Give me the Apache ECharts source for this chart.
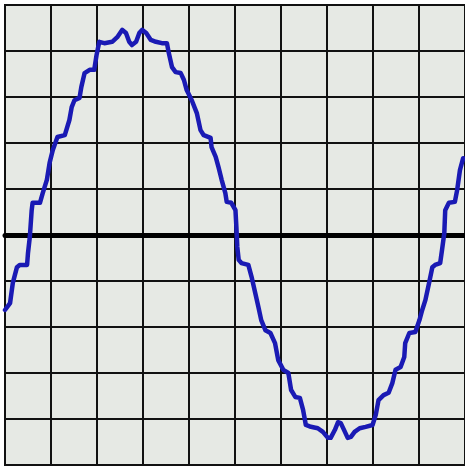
<!DOCTYPE html>
<html>
<head>
<meta charset="utf-8">
<script src="https://cdn.jsdelivr.net/npm/echarts@6/dist/echarts.min.js"></script>
<style>
  html, body {
    margin: 0;
    padding: 0;
    background: #ffffff;
  }
  #chart {
    width: 465px;
    height: 466px;
  }
</style>
</head>
<body>
<div id="chart"></div>
<script>
// time in divisions, amplitude in divisions
var timeDiv = [
  0, 0.11, 0.17, 0.26, 0.32, 0.48, 0.50, 0.54, 0.58, 0.60, 0.76, 0.82, 0.91, 0.97, 1.04, 1.14,
  1.30, 1.40, 1.45, 1.51, 1.62, 1.66, 1.73, 1.84, 1.94, 1.99, 2.05, 2.16, 2.33, 2.44, 2.55, 2.63,
  2.70, 2.76, 2.85, 2.92, 2.98, 3.07, 3.17, 3.28, 3.41, 3.52, 3.56, 3.63, 3.71, 3.82, 3.89, 3.95,
  4.06, 4.17, 4.25, 4.32, 4.47, 4.49, 4.58, 4.64, 4.71, 4.79, 4.82, 4.92, 5.01, 5.03, 5.05, 5.08,
  5.14, 5.29, 5.36, 5.44, 5.51, 5.57, 5.66, 5.77, 5.87, 5.94, 6.05, 6.16, 6.22, 6.31, 6.41, 6.48,
  6.54, 6.65, 6.80, 6.91, 7.02, 7.08, 7.17, 7.24, 7.30, 7.39, 7.45, 7.52, 7.60, 7.71, 7.84, 7.99,
  8.06, 8.12, 8.23, 8.34, 8.42, 8.49, 8.60, 8.68, 8.70, 8.79, 8.92, 9.01, 9.07, 9.14, 9.22, 9.29,
  9.35, 9.46, 9.50, 9.55, 9.57, 9.65, 9.78, 9.83, 9.89, 9.96
]
var voltDiv = [
  -1.63, -1.48, -1.04, -0.70, -0.65, -0.65, -0.39, -0.04, 0.54, 0.70, 0.70, 0.91, 1.20, 1.57, 1.85, 2.13,
  2.17, 2.50, 2.78, 2.93, 2.98, 3.22, 3.52, 3.59, 3.59, 3.91, 4.20, 4.17, 4.20, 4.30, 4.46, 4.39,
  4.20, 4.13, 4.20, 4.39, 4.46, 4.39, 4.24, 4.20, 4.17, 4.17, 3.96, 3.65, 3.54, 3.52, 3.37, 3.15,
  2.93, 2.65, 2.28, 2.17, 2.11, 1.91, 1.70, 1.48, 1.20, 0.91, 0.72, 0.70, 0.54, 0.17, -0.26, -0.54,
  -0.61, -0.65, -0.91, -1.26, -1.57, -1.85, -2.07, -2.13, -2.35, -2.72, -2.93, -3.00, -3.37, -3.52, -3.54, -3.80,
  -4.13, -4.17, -4.20, -4.28, -4.41, -4.41, -4.24, -4.07, -4.09, -4.28, -4.41, -4.39, -4.28, -4.20, -4.17, -4.13,
  -3.91, -3.59, -3.48, -3.43, -3.22, -2.93, -2.87, -2.65, -2.35, -2.13, -2.11, -1.85, -1.63, -1.41, -1.04, -0.70,
  -0.65, -0.61, -0.33, 0.04, 0.54, 0.70, 0.72, 0.98, 1.41, 1.67
]
var xTicks = [0, 10, 1]
var yTicks = [-5, 5, 1]

var trace = timeDiv.map(function(t, i) {
  return [t, voltDiv[i]]
})

var myChart = echarts.init(document.getElementById('chart'))
myChart.setOption({
  animation: false,
  grid: {
    left: 5,
    top: 5,
    width: 463,
    height: 460,
    show: true,
    backgroundColor: '#e6e9e4',
    borderColor: '#111111',
    borderWidth: 2
  },
  xAxis: {
    type: 'value',
    min: xTicks[0],
    max: xTicks[1],
    interval: xTicks[2],
    axisLine: {
      onZero: true,
      lineStyle: {
        color: '#000000',
        width: 5
      }
    },
    axisTick: { show: false },
    axisLabel: { show: false },
    splitLine: {
      lineStyle: {
        color: '#111111',
        width: 2
      }
    }
  },
  yAxis: {
    type: 'value',
    min: yTicks[0],
    max: yTicks[1],
    interval: yTicks[2],
    axisLine: {
      show: true,
      lineStyle: {
        color: '#111111',
        width: 2
      }
    },
    axisTick: { show: false },
    axisLabel: { show: false },
    splitLine: {
      lineStyle: {
        color: '#111111',
        width: 2
      }
    }
  },
  series: [{
    type: 'line',
    data: trace,
    symbol: 'none',
    z: 5,
    lineStyle: {
      color: '#1a1ab4',
      width: 4.5,
      join: 'round',
      cap: 'round'
    }
  }]
})
</script>
</body>
</html>
